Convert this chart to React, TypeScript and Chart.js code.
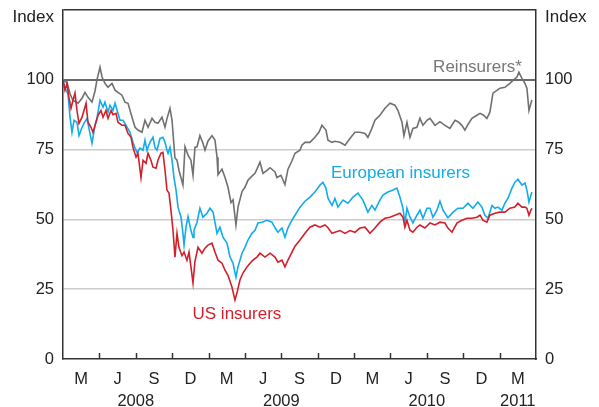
import React, { useEffect, useRef } from 'react';
import { Chart, registerables } from 'chart.js';

Chart.register(...registerables);

// x = months since 1 Feb 2008, y = index (start = 100)
const reinsurers: [number, number][] = [
  [0, 100], [0.33, 99], [0.58, 95], [0.82, 92.6], [1.24, 91.6], [1.57, 93.4], [1.81, 95.5], [2.06, 93.7], [2.39, 92], [2.64, 96],
  [2.8, 100], [3.05, 104.5], [3.22, 101], [3.46, 98.7], [3.71, 97.3], [4.04, 98.7], [4.29, 96.3], [4.53, 95.5], [4.86, 94.5], [5.11, 92],
  [5.36, 91.6], [5.69, 86.6], [5.94, 83], [6.18, 82], [6.51, 81.2], [6.76, 85.5], [7.01, 83], [7.34, 86.2], [7.58, 84.8], [7.83, 84.4],
  [8.16, 86.6], [8.41, 83], [8.57, 86], [8.82, 89.8], [8.99, 85.5], [9.23, 72], [9.4, 71.2], [9.56, 67.6], [9.89, 62.3], [10.06, 76],
  [10.31, 73], [10.55, 71.2], [10.72, 65.8], [10.88, 75.8], [11.05, 76], [11.29, 80], [11.54, 77.3], [11.71, 74.8], [11.95, 78], [12.28, 80],
  [12.53, 78.4], [12.7, 72.3], [12.78, 66], [13.11, 68], [13.36, 65], [13.6, 61.6], [13.85, 56], [14.02, 57], [14.26, 48], [14.43, 54.4],
  [14.76, 60], [15.0, 61.5], [15.25, 64], [15.58, 65.5], [15.83, 66.5], [15.99, 68], [16.24, 70.5], [16.49, 66.5], [16.82, 67.6], [17.07, 68.5],
  [17.48, 67], [17.64, 65], [17.97, 65.8], [18.3, 62.5], [18.55, 68], [18.88, 71], [19.13, 73.7], [19.54, 74.8], [19.7, 76.6], [19.95, 77.6],
  [20.36, 77.6], [20.77, 79.4], [21.1, 81.2], [21.35, 83.7], [21.68, 82], [21.85, 78.4], [22.18, 77.6], [22.42, 78], [22.84, 77.6], [23.25, 76.6],
  [23.66, 79], [24.07, 81.2], [24.48, 81.2], [24.9, 80.8], [25.14, 79.4], [25.47, 82.6], [25.72, 85.5], [26.13, 87.3], [26.55, 89.8], [26.96, 91.6],
  [27.37, 90.9], [27.62, 89], [27.95, 84.8], [28.11, 80], [28.36, 84.8], [28.61, 79.4], [28.85, 82.6], [29.18, 83], [29.43, 86.2], [29.68, 83.7],
  [30.01, 85.5], [30.26, 86.2], [30.67, 83.7], [31.08, 85], [31.49, 83.7], [31.9, 82.6], [32.32, 85.5], [32.56, 85], [32.89, 83.7], [33.14, 82],
  [33.39, 84], [33.72, 86.2], [34.13, 87.3], [34.38, 88], [34.62, 87.5], [34.95, 86.2], [35.2, 88.4], [35.45, 95.2], [35.78, 96.2], [36.03, 97],
  [36.44, 97.3], [36.85, 98.7], [37.1, 99.8], [37.43, 101], [37.59, 102.7], [37.84, 100.5], [38.09, 98.7], [38.25, 97], [38.42, 89], [38.58, 91.6],
  [38.66, 92.8],
];

const europeanInsurers: [number, number][] = [
  [0, 100], [0.16, 97], [0.41, 95], [0.58, 86.6], [0.74, 81.2], [0.91, 85.5], [1.15, 84.8], [1.32, 80], [1.57, 83], [1.73, 84.4],
  [1.98, 86.2], [2.14, 82.6], [2.39, 77.3], [2.64, 83.7], [2.8, 86.2], [3.05, 92.6], [3.3, 90.2], [3.46, 92], [3.71, 88.4], [3.87, 90.9],
  [4.12, 89], [4.29, 91.6], [4.53, 88], [4.7, 85.5], [4.95, 85.5], [5.28, 83], [5.52, 81.2], [5.77, 77.6], [5.94, 75.5], [6.1, 74],
  [6.35, 75.5], [6.6, 74.8], [6.76, 78.4], [6.92, 74.8], [7.17, 77.6], [7.42, 79.4], [7.58, 75.8], [7.75, 74.8], [8.0, 79], [8.24, 79.4],
  [8.41, 77.6], [8.57, 74.8], [8.66, 73.7], [8.82, 75.8], [8.99, 71.2], [9.15, 65], [9.32, 60.5], [9.48, 54.4], [9.73, 50.8], [9.89, 45],
  [9.98, 40.8], [10.14, 47.2], [10.31, 51], [10.55, 46], [10.72, 43.5], [10.8, 46.1], [11.05, 49], [11.29, 54], [11.54, 50.8], [11.87, 52.2],
  [12.12, 54], [12.37, 52.6], [12.7, 45], [12.94, 47.2], [13.19, 43.6], [13.52, 41.5], [13.77, 36.5], [14.02, 34.3], [14.26, 29.3], [14.43, 33],
  [14.76, 37.9], [15.0, 40], [15.25, 42.6], [15.58, 45], [15.83, 46.1], [16.08, 48.7], [16.41, 49], [16.82, 49.7], [17.23, 49], [17.48, 47],
  [17.72, 45.4], [18.05, 46.9], [18.3, 43.6], [18.55, 47], [18.88, 49.7], [19.13, 51.5], [19.54, 54.4], [19.95, 56.5], [20.36, 58], [20.77, 59.8],
  [21.19, 62.3], [21.43, 63.3], [21.68, 61.2], [21.85, 57.6], [22.18, 55], [22.42, 57.5], [22.67, 54.4], [23.08, 56.9], [23.5, 55.8], [23.91, 58],
  [24.32, 59.4], [24.73, 56.9], [25.14, 52.6], [25.47, 55], [25.72, 53.3], [26.13, 56.9], [26.38, 58.7], [26.79, 59.8], [27.21, 60.5], [27.53, 61.2],
  [27.78, 58], [28.03, 54], [28.19, 48.7], [28.36, 54], [28.61, 50.8], [28.85, 48.7], [29.18, 51.5], [29.43, 53.3], [29.68, 50.4], [30.01, 54],
  [30.26, 54], [30.5, 50.8], [30.83, 53.3], [31.08, 56.5], [31.33, 53.3], [31.74, 50.6], [32.15, 52.5], [32.56, 54], [32.98, 54], [33.39, 55.8],
  [33.8, 54], [34.21, 56.2], [34.54, 54.4], [34.79, 51.5], [35.04, 50.4], [35.37, 55], [35.61, 54], [35.86, 54.4], [36.19, 53.3], [36.44, 55.8],
  [36.69, 57.6], [37.02, 61.2], [37.26, 63.3], [37.51, 64.4], [37.84, 62.3], [38.09, 63], [38.25, 60.5], [38.42, 56.2], [38.58, 58.7], [38.66, 59.8],
];

const usInsurers: [number, number][] = [
  [0, 100], [0.16, 96.3], [0.33, 98.7], [0.49, 93.7], [0.66, 89.8], [0.82, 92.6], [0.99, 95.2], [1.15, 89], [1.32, 84.4], [1.57, 86.6],
  [1.73, 89], [1.9, 91.6], [2.06, 84.8], [2.31, 83], [2.47, 81.2], [2.72, 84.8], [2.89, 87.3], [3.13, 89], [3.3, 86.6], [3.54, 89],
  [3.71, 86.2], [3.96, 89], [4.12, 87.5], [4.37, 88], [4.53, 84.8], [4.86, 83.7], [5.11, 83.7], [5.36, 80.8], [5.61, 79.4], [5.77, 75.8],
  [6.02, 72.3], [6.18, 73.7], [6.43, 65], [6.6, 71.2], [6.84, 70.1], [7.01, 73.7], [7.25, 71.2], [7.42, 68.7], [7.67, 68.3], [7.83, 71.2],
  [8.08, 73.7], [8.24, 74], [8.41, 67.6], [8.57, 60.5], [8.74, 59.4], [8.9, 53.3], [9.07, 46.1], [9.23, 36.5], [9.4, 45], [9.56, 40],
  [9.81, 37], [9.98, 38.3], [10.22, 35.4], [10.39, 38.3], [10.55, 33], [10.72, 27.2], [10.88, 35], [11.13, 40], [11.46, 37.9], [11.71, 39.7],
  [11.95, 40.8], [12.28, 41.5], [12.53, 38.3], [12.78, 35.4], [13.11, 34.3], [13.36, 31.8], [13.6, 30], [13.93, 25.8], [14.18, 21.1], [14.34, 23.6],
  [14.59, 28.3], [14.84, 30.8], [15.17, 33], [15.42, 34.3], [15.66, 35.4], [15.99, 36.5], [16.24, 37.9], [16.65, 36.5], [17.07, 37.9], [17.48, 36.5],
  [17.72, 34.7], [18.05, 35.4], [18.3, 33], [18.55, 35.4], [18.88, 38.3], [19.13, 40.4], [19.54, 42.6], [19.95, 45], [20.36, 47.2], [20.77, 48],
  [21.19, 47.2], [21.6, 48], [21.85, 47], [22.18, 45], [22.42, 45.4], [22.84, 46], [23.25, 45], [23.66, 46], [24.07, 45.4], [24.48, 46.9],
  [24.9, 47.2], [25.31, 45], [25.72, 46.9], [26.13, 49], [26.55, 50.4], [26.96, 50.8], [27.37, 51.5], [27.78, 52.2], [28.03, 50.8], [28.19, 47.2],
  [28.36, 49.7], [28.61, 46.1], [28.85, 45.4], [29.18, 47.2], [29.43, 48], [29.84, 46.9], [30.26, 48.7], [30.67, 48], [31.08, 49], [31.49, 48.7],
  [31.74, 46.9], [32.07, 45.4], [32.48, 48.7], [32.89, 49.7], [33.31, 50.4], [33.72, 50.4], [34.13, 50.8], [34.38, 51.5], [34.62, 49.7], [34.95, 49],
  [35.2, 51.5], [35.61, 52.2], [36.03, 52.6], [36.44, 52.6], [36.85, 54], [37.26, 54.4], [37.51, 55.8], [37.84, 54.4], [38.09, 54.4], [38.25, 54],
  [38.42, 51.5], [38.58, 53.3], [38.66, 54],
];

// Axis labels
const monthLabels = ['M', 'J', 'S', 'D', 'M', 'J', 'S', 'D', 'M', 'J', 'S', 'D', 'M']; // centred at 1.5 + 3i
const yearLabels = ['2008', '2009', '2010', '2011'];
const yearPositions = [6, 18, 30, 37.5];
const quarterTicks = [3, 6, 9, 12, 15, 18, 21, 24, 27, 30, 33, 36];
const yTicks = [0, 25, 50, 75, 100];

// Series labels placed in data coordinates (month, index)
const seriesLabels = {
  reinsurers: { text: 'Reinsurers*', x: 37.84, y: 104.5 },
  european: { text: 'European insurers', x: 22.1, y: 66.5 },
  us: { text: 'US insurers', x: 14.34, y: 16.1 },
};

const FONT = '"Liberation Sans", Arial, Helvetica, sans-serif';
const GREY = '#6f7072';
const BLUE = '#10aceb';
const RED = '#d21f2b';
const TEXT = '#222222';

export default function App() {
  const ref = useRef<HTMLCanvasElement | null>(null);

  useEffect(() => {
    if (!ref.current) return;
    const toPts = (arr: [number, number][]) => arr.map(([x, y]) => ({ x, y }));

    const overlay = {
      id: 'overlay',
      afterDraw(chart: any) {
        const { ctx, chartArea, scales } = chart;
        const xs = scales.x;
        const ys = scales.y;
        ctx.save();
        ctx.strokeStyle = '#333';
        ctx.lineWidth = 1.5;
        for (const q of quarterTicks) {
          const px = Math.round(xs.getPixelForValue(q)) + 0.5;
          ctx.beginPath();
          ctx.moveTo(px, chartArea.bottom);
          ctx.lineTo(px, chartArea.bottom - 6);
          ctx.stroke();
        }
        ctx.font = `17px ${FONT}`;
        ctx.fillStyle = TEXT;
        ctx.textBaseline = 'middle';
        ctx.textAlign = 'right';
        ctx.fillText('Index', chartArea.left - 9, chartArea.top + 7);
        ctx.textAlign = 'left';
        ctx.fillText('Index', chartArea.right + 9, chartArea.top + 7);
        ctx.fillStyle = '#77787a';
        ctx.textAlign = 'right';
        ctx.fillText(seriesLabels.reinsurers.text, xs.getPixelForValue(seriesLabels.reinsurers.x), ys.getPixelForValue(seriesLabels.reinsurers.y));
        ctx.fillStyle = BLUE;
        ctx.textAlign = 'left';
        ctx.fillText(seriesLabels.european.text, xs.getPixelForValue(seriesLabels.european.x), ys.getPixelForValue(seriesLabels.european.y));
        ctx.fillStyle = RED;
        ctx.textAlign = 'center';
        ctx.fillText(seriesLabels.us.text, xs.getPixelForValue(seriesLabels.us.x), ys.getPixelForValue(seriesLabels.us.y));
        ctx.restore();
      },
    };

    const tickFont = { family: FONT, size: 16.5, lineHeight: 1.3 };
    const zeroPad = (s: any) => { s.paddingTop = 0; s.paddingBottom = 0; s.paddingLeft = 0; s.paddingRight = 0; };

    const yCommon = {
      min: 0,
      max: 125,
      afterFit: (s: any) => { s.width = 63; zeroPad(s); },
      afterBuildTicks: (s: any) => {
        s.ticks = [...yTicks, 125].map((v) => ({ value: v }));
      },
    };

    const lineStyle = { borderWidth: 1.6, pointRadius: 0, tension: 0, yAxisID: 'y' };

    const chart = new Chart(ref.current, {
      type: 'line',
      data: {
        datasets: [
          { label: 'US insurers', data: toPts(usInsurers), borderColor: RED, ...lineStyle },
          { label: 'European insurers', data: toPts(europeanInsurers), borderColor: BLUE, ...lineStyle },
          { label: 'Reinsurers*', data: toPts(reinsurers), borderColor: GREY, ...lineStyle },
        ],
      },
      options: {
        responsive: false,
        animation: false,
        layout: { padding: { top: 10, left: 0, right: 0, bottom: 0 } },
        plugins: { legend: { display: false }, tooltip: { enabled: false }, title: { display: false } },
        scales: {
          x: {
            type: 'linear',
            min: 0,
            max: 39,
            afterFit: (s: any) => { s.height = 48; zeroPad(s); },
            afterBuildTicks: (s: any) => {
              const t: { value: number }[] = [];
              for (let i = 0; i < monthLabels.length; i++) t.push({ value: 1.5 + 3 * i });
              for (const p of yearPositions) if (!t.some((k) => k.value === p)) t.push({ value: p });
              t.sort((a, b) => a.value - b.value);
              s.ticks = t;
            },
            ticks: {
              autoSkip: false,
              maxRotation: 0,
              minRotation: 0,
              padding: 10,
              color: TEXT,
              font: tickFont,
              callback: (v: any) => {
                const val = Number(v);
                const idx = (val - 1.5) / 3;
                const m = Number.isInteger(idx) && idx >= 0 && idx < monthLabels.length ? monthLabels[idx] : '';
                const yi = yearPositions.indexOf(val);
                if (yi >= 0) return [m, yearLabels[yi]];
                return m;
              },
            },
            grid: { display: true, drawOnChartArea: false, drawTicks: false },
            border: { display: true, color: '#333', width: 1.5 },
          },
          y: {
            ...yCommon,
            position: 'left',
            ticks: {
              padding: 9,
              color: TEXT,
              font: tickFont,
              callback: (v: any) => (Number(v) === 125 ? '' : String(v)),
            },
            grid: {
              drawTicks: false,
              color: (c: any) => {
                const v = c.tick?.value;
                if (v === 100) return '#6a6a6a';
                if (v === 125) return '#333333';
                if (v === 0) return 'rgba(0,0,0,0)';
                return '#cccccc';
              },
              lineWidth: (c: any) => {
                const v = c.tick?.value;
                if (v === 100) return 2;
                return 1.5;
              },
            },
            border: { display: true, color: '#333', width: 1.5 },
          },
          y2: {
            ...yCommon,
            position: 'right',
            ticks: {
              padding: 9,
              color: TEXT,
              font: tickFont,
              callback: (v: any) => (Number(v) === 125 ? '' : String(v)),
            },
            grid: { drawOnChartArea: false, drawTicks: false },
            border: { display: true, color: '#333', width: 1.5 },
          },
        },
      },
      plugins: [overlay],
    } as any);

    return () => chart.destroy();
  }, []);

  return (
    <div style={{ position: 'absolute', left: 0, top: 0, width: 599, height: 407, background: '#fff' }}>
      <canvas ref={ref} width={599} height={407} style={{ display: 'block', width: 599, height: 407 }} />
    </div>
  );
}
